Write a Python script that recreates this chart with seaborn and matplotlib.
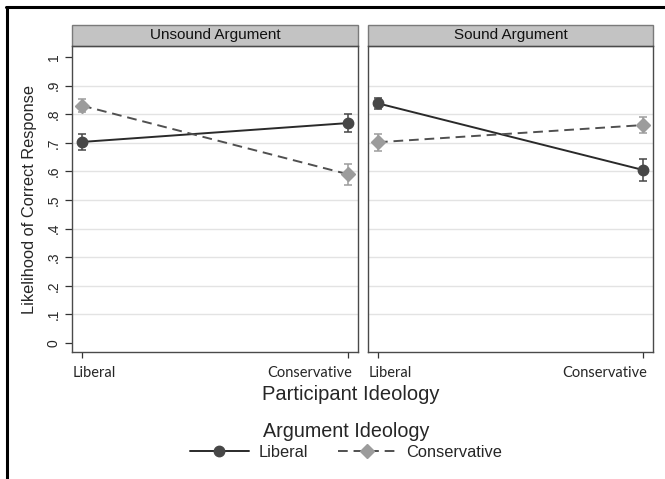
import pandas as pd
import numpy as np
import matplotlib
matplotlib.use('Agg')
import matplotlib.pyplot as plt
from matplotlib.patches import Rectangle
from matplotlib.lines import Line2D
from matplotlib.transforms import ScaledTranslation
import seaborn as sns

sns.set_style('white')
plt.rcParams['font.family'] = ['Liberation Sans', 'DejaVu Sans']

# data
participant = ['Liberal', 'Conservative']
panels = ['Unsound Argument', 'Sound Argument']
arguments = ['Liberal', 'Conservative']

unsound_lib = [0.703, 0.769]
unsound_lib_err = [0.028, 0.030]
unsound_con = [0.830, 0.590]
unsound_con_err = [0.022, 0.036]

sound_lib = [0.838, 0.605]
sound_lib_err = [0.020, 0.040]
sound_con = [0.702, 0.762]
sound_con_err = [0.029, 0.028]

yticks = [0, .1, .2, .3, .4, .5, .6, .7, .8, .9, 1]
ytick_labels = ['0', '.1', '.2', '.3', '.4', '.5', '.6', '.7', '.8', '.9', '1']

rows = []
values = {('Unsound Argument', 'Liberal'): (unsound_lib, unsound_lib_err),
          ('Unsound Argument', 'Conservative'): (unsound_con, unsound_con_err),
          ('Sound Argument', 'Liberal'): (sound_lib, sound_lib_err),
          ('Sound Argument', 'Conservative'): (sound_con, sound_con_err)}
for (pan, arg), (vals, errs) in values.items():
    for i, p in enumerate(participant):
        rows.append({'panel': pan, 'argument': arg, 'x': i,
                     'participant': p, 'value': vals[i], 'err': errs[i]})
df = pd.DataFrame(rows)

line_col = {'Liberal': '#2a2a2a', 'Conservative': '#505050'}
mark_col = {'Liberal': '#474747', 'Conservative': '#9c9c9c'}
markers = {'Liberal': 'o', 'Conservative': 'D'}
msize = {'Liberal': 7.5, 'Conservative': 7}
dashes = {'Liberal': '', 'Conservative': (5, 3)}

fig = plt.figure(figsize=(6.65, 4.79), dpi=100)
W, H = 665, 479

def px_axes(l, t, r, b):
    return fig.add_axes([l / W, (H - b) / H, (r - l) / W, (b - t) / H])

ax1 = px_axes(72, 46, 358, 352)
ax2 = px_axes(368, 46, 653, 352)

for ax, pan in zip([ax1, ax2], panels):
    sub = df[df['panel'] == pan]
    for y in yticks[1:-1]:
        ax.axhline(y, color='#e3e3e3', lw=1, zorder=0)
    sns.lineplot(data=sub, x='x', y='value', hue='argument', style='argument',
                 palette=line_col, dashes=dashes, errorbar=None, lw=1.4,
                 legend=False, ax=ax, zorder=2)
    for arg in arguments:
        s = sub[sub['argument'] == arg]
        ax.errorbar(s['x'], s['value'], yerr=s['err'], fmt=markers[arg],
                    color=mark_col[arg], ms=msize[arg], capsize=3,
                    elinewidth=1.1, capthick=1.1, zorder=3, mec=mark_col[arg])
    ax.set_xlim(-0.0376, 1.0376)
    ax.set_ylim(-0.0315, 1.0385)
    ax.set_xticks([0, 1])
    ax.set_xticklabels(participant, fontsize=10.5, family=['Lato', 'DejaVu Sans'])
    ax.set_xlabel('')
    ax.set_ylabel('')
    ax.tick_params(axis='x', direction='out', length=4, width=0.9, pad=6,
                   bottom=True, color='#333333')
    labs = ax.get_xticklabels()
    labs[0].set_ha('left')
    labs[0].set_transform(labs[0].get_transform() + ScaledTranslation(-7 / 72, 0, fig.dpi_scale_trans))
    labs[1].set_ha('right')
    labs[1].set_transform(labs[1].get_transform() + ScaledTranslation(3 / 72, 0, fig.dpi_scale_trans))
    for sp in ax.spines.values():
        sp.set_color('#4a4a4a')
        sp.set_linewidth(1.0)
    # strip on top of each panel
    strip_h = 21 / 306
    ax.add_patch(Rectangle((0, 1), 1, strip_h, transform=ax.transAxes,
                           facecolor='#c3c3c3', edgecolor='#7a7a7a', lw=1,
                           clip_on=False))
    ax.text(0.5, 1 + strip_h / 2, pan, transform=ax.transAxes, ha='center',
            va='center', fontsize=11, color='#111111')

ax1.set_yticks(yticks)
ax1.set_yticklabels(ytick_labels, rotation=90, va='center', fontsize=10)
ax1.tick_params(axis='y', direction='out', length=5, width=0.9, pad=3,
                left=True, color='#333333')
ax1.set_ylabel('Likelihood of Correct Response', fontsize=11.8, labelpad=7)
ax2.set_yticks(yticks)
ax2.set_yticklabels([])
ax2.tick_params(axis='y', left=False)

fig.text(351 / W, (H - 394) / H, 'Participant Ideology', ha='center',
         va='center', fontsize=14.5)

handles = [Line2D([], [], color=line_col['Liberal'], lw=1.4, ls='-',
                  marker='o', ms=7.5, mfc=mark_col['Liberal'], mec=mark_col['Liberal']),
           Line2D([], [], color=line_col['Conservative'], lw=1.4, dashes=(5, 3),
                  marker='D', ms=7, mfc=mark_col['Conservative'], mec=mark_col['Conservative'])]
leg = fig.legend(handles, arguments, ncol=2, loc='center',
                 bbox_to_anchor=(346 / W, (H - 441) / H), frameon=False,
                 title='Argument Ideology', title_fontsize=14.2, fontsize=11.8,
                 handlelength=3.6, handletextpad=0.6, columnspacing=1.8,
                 borderpad=0, labelspacing=0.2)

# outer frame of the cropped figure
fig.add_artist(Line2D([7 / W, 7 / W], [0, (H - 7) / H], color='black', lw=2.2,
                      transform=fig.transFigure))
fig.add_artist(Line2D([6 / W, 1], [(H - 7) / H, (H - 7) / H], color='black', lw=2.2,
                      transform=fig.transFigure))

plt.savefig('out.png', dpi=100)
